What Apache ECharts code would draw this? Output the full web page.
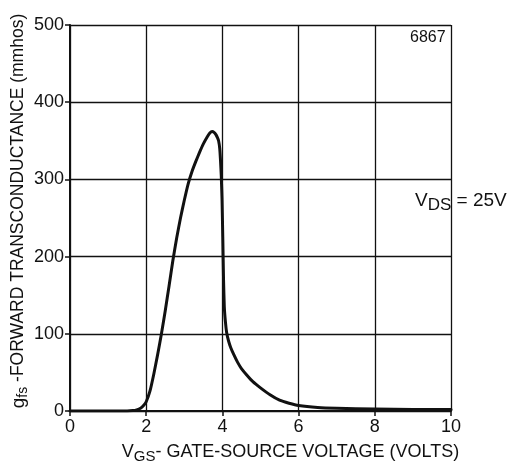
<!DOCTYPE html>
<html>
<head>
<meta charset="utf-8">
<script src="https://cdn.jsdelivr.net/npm/echarts@6/dist/echarts.min.js"></script>
<style>html,body{margin:0;padding:0;background:#fff}#c{width:510px;height:469px}</style>
</head>
<body>
<div id="c"></div>
<script>
const vgs = [0, 1, 1.5, 1.65, 1.75, 1.85, 1.93, 2.0, 2.1, 2.2, 2.3, 2.4, 2.5, 2.6, 2.7, 2.8, 2.9, 3.0, 3.1, 3.2, 3.3, 3.4, 3.5, 3.6, 3.67, 3.73, 3.78, 3.83, 3.87, 3.9, 3.93, 3.95, 3.97, 3.99, 4.01, 4.03, 4.05, 4.08, 4.11, 4.16, 4.22, 4.3, 4.4, 4.5, 4.65, 4.8, 5.0, 5.25, 5.5, 5.75, 6.0, 6.5, 7, 8, 9, 10];
const gfs = [0, 0, 0, 0.5, 1.5, 3.5, 7, 12, 26, 48, 73, 100, 130, 162, 195, 224, 250, 273, 294, 310, 323, 335, 346, 355, 360, 362, 361, 358, 354, 350, 340, 325, 305, 275, 225, 170, 135, 115, 102, 91, 82, 73, 63, 55, 46, 38, 30, 21, 14, 10, 7, 4.5, 3.5, 2.5, 2, 2];
const xTicks = [0, 2, 4, 6, 8, 10];
const yTicks = [0, 100, 200, 300, 400, 500];

const ink = '#111';
const font = '"Liberation Sans", "DejaVu Sans", sans-serif';
const chart = echarts.init(document.getElementById('c'));
chart.setOption({
  backgroundColor: '#fff',
  animation: false,
  grid: { left: 70, right: 59, top: 25, bottom: 58, containLabel: false, outerBoundsMode: 'none' },
  xAxis: {
    type: 'value', min: xTicks[0], max: xTicks[xTicks.length - 1], interval: 2,
    axisLine: { show: true, lineStyle: { color: ink, width: 2 } },
    axisTick: { show: true, length: 5, lineStyle: { color: ink, width: 1.5 } },
    splitLine: { show: true, lineStyle: { color: ink, width: 1.3 } },
    axisLabel: { color: ink, fontSize: 18, fontFamily: font, margin: 7 },
    name: '{v|V}{sub|GS}{t|- GATE-SOURCE VOLTAGE (VOLTS)}',
    nameLocation: 'middle', nameGap: 29,
    nameTextStyle: {
      padding: [0, 0, 0, 60],
      rich: {
        v: { fontSize: 18, fontFamily: font, color: ink },
        sub: { fontSize: 15, fontFamily: font, color: ink, padding: [9, 0, 0, 0] },
        t: { fontSize: 18, fontFamily: font, color: ink }
      }
    }
  },
  yAxis: {
    type: 'value', min: yTicks[0], max: yTicks[yTicks.length - 1], interval: 100,
    axisLine: { show: true, lineStyle: { color: ink, width: 2 } },
    axisTick: { show: true, length: 5, lineStyle: { color: ink, width: 1.5 } },
    splitLine: { show: true, lineStyle: { color: ink, width: 1.3 } },
    axisLabel: { color: ink, fontSize: 18, fontFamily: font, margin: 6 },
    name: '{g|g}{sub|fs}{t| -FORWARD TRANSCONDUCTANCE (mmhos)}',
    nameLocation: 'middle', nameGap: 40, nameMoveOverlap: false,
    nameTextStyle: {
      padding: [0, 0, 0, 14],
      rich: {
        g: { fontSize: 19, fontFamily: font, color: ink },
        sub: { fontSize: 14, fontFamily: font, color: ink, padding: [9, 0, 0, 0] },
        t: { fontSize: 17.5, fontFamily: font, color: ink }
      }
    }
  },
  series: [{
    type: 'line',
    data: vgs.map((x, i) => [x, gfs[i]]),
    showSymbol: false,
    smooth: 0.15,
    lineStyle: { color: ink, width: 3, join: 'round', cap: 'round' },
    z: 5
  }],
  graphic: [
    { type: 'text', left: 410, top: 30, style: { text: '6867', font: '16px ' + font, fill: ink } },
    { type: 'text', left: 415, top: 191, style: {
      text: '{v|V}{sub|DS}{t| = 25V}',
      rich: {
        v: { font: '19px ' + font, fill: ink },
        sub: { font: '17px ' + font, fill: ink, padding: [9, 0, 0, 0] },
        t: { font: '19px ' + font, fill: ink }
      }
    } }
  ]
});
</script>
</body>
</html>
